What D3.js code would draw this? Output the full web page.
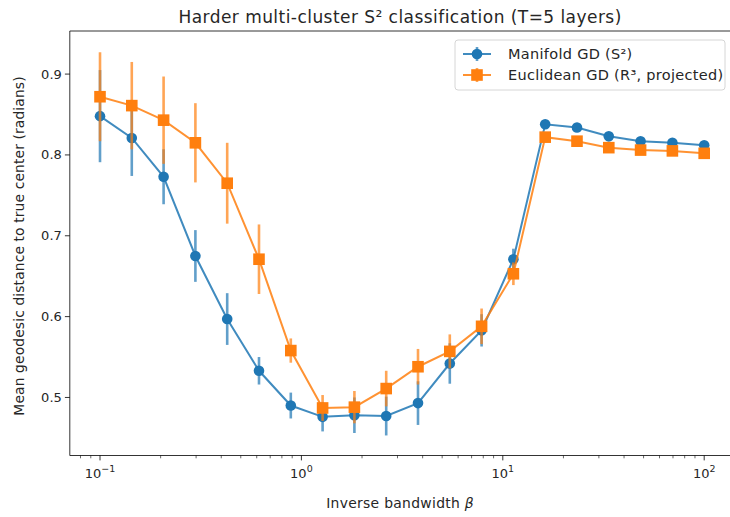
<!DOCTYPE html>
<html>
<head>
<meta charset="utf-8">
<script src="https://cdn.jsdelivr.net/npm/d3@7"></script>
<style>
  body { margin: 0; background: #fff; }
  text { font-family: "DejaVu Sans", sans-serif; fill: #262626; }
</style>
</head>
<body>
<div id="chart"></div>
<script>
// inverse bandwidth values, logspace(-1, 2, 20)
const betas = [0.1, 0.1438, 0.2069, 0.2976, 0.4281, 0.6158, 0.8859, 1.2743, 1.8330, 2.6367,
               3.7927, 5.4556, 7.8476, 11.288, 16.238, 23.357, 33.598, 48.329, 69.519, 100];

const manifoldMean = [0.848, 0.821, 0.773, 0.675, 0.597, 0.533, 0.490, 0.476, 0.478, 0.477,
                      0.493, 0.542, 0.583, 0.671, 0.838, 0.834, 0.823, 0.817, 0.815, 0.812];
const manifoldErr  = [0.057, 0.047, 0.034, 0.032, 0.032, 0.017, 0.016, 0.018, 0.022, 0.024,
                      0.027, 0.025, 0.020, 0.013, 0.004, 0.003, 0.003, 0.003, 0.003, 0.003];

const euclidMean = [0.872, 0.861, 0.843, 0.815, 0.765, 0.671, 0.558, 0.487, 0.488, 0.511,
                    0.538, 0.557, 0.588, 0.653, 0.822, 0.817, 0.809, 0.806, 0.805, 0.802];
const euclidErr  = [0.055, 0.054, 0.054, 0.049, 0.050, 0.043, 0.015, 0.016, 0.020, 0.022,
                    0.022, 0.021, 0.022, 0.014, 0.004, 0.003, 0.003, 0.003, 0.003, 0.003];

const yTicks = [0.5, 0.6, 0.7, 0.8, 0.9];
const xTickExps = [-1, 0, 1, 2];
const seriesNames = ["Manifold GD (S\u00B2)", "Euclidean GD (R\u00B3, projected)"];
const colors = ["#1f77b4", "#ff7f0e"];

const width = 730, height = 517;
const margin = { top: 31, left: 69.8, bottom: 61.5 };
const plotRight = 734.4;

const svg = d3.select("#chart").append("svg")
    .attr("width", width)
    .attr("height", height);

const x = d3.scaleLog()
    .domain([Math.pow(10, -1.15), Math.pow(10, 2.15)])
    .range([margin.left, plotRight]);

const y = d3.scaleLinear()
    .domain([0.4282, 0.9533])
    .range([height - margin.bottom, margin.top]);

// axes
const xAxis = svg.append("g")
    .attr("transform", "translate(0," + (height - margin.bottom) + ")");
xAxis.append("line")
    .attr("x1", margin.left).attr("x2", plotRight)
    .attr("stroke", "#000").attr("stroke-width", 0.8);

const minor = [];
for (let e = -2; e <= 2; e++) {
    for (let m = 2; m <= 9; m++) {
        const v = m * Math.pow(10, e);
        if (x(v) >= margin.left && x(v) <= width) minor.push(v);
    }
}
xAxis.selectAll(".minor").data(minor).enter().append("line")
    .attr("x1", d => x(d)).attr("x2", d => x(d))
    .attr("y1", 0).attr("y2", 2.8)
    .attr("stroke", "#000").attr("stroke-width", 0.6);

xAxis.selectAll(".major").data(xTickExps).enter().append("line")
    .attr("x1", d => x(Math.pow(10, d))).attr("x2", d => x(Math.pow(10, d)))
    .attr("y1", 0).attr("y2", 4.9)
    .attr("stroke", "#000").attr("stroke-width", 0.8);

const xl = xAxis.selectAll(".xlab").data(xTickExps).enter().append("text")
    .attr("x", d => x(Math.pow(10, d)))
    .attr("y", 22)
    .attr("text-anchor", "middle")
    .style("font-size", "13px");
xl.append("tspan").text("10");
xl.append("tspan").attr("dy", -6).style("font-size", "9.5px")
    .text(d => d < 0 ? "\u2212" + Math.abs(d) : d);

const yAxis = svg.append("g");
yAxis.append("line")
    .attr("x1", margin.left).attr("x2", margin.left)
    .attr("y1", margin.top).attr("y2", height - margin.bottom)
    .attr("stroke", "#000").attr("stroke-width", 0.8);
yAxis.selectAll(".tick").data(yTicks).enter().append("line")
    .attr("x1", margin.left - 4.9).attr("x2", margin.left)
    .attr("y1", d => y(d)).attr("y2", d => y(d))
    .attr("stroke", "#000").attr("stroke-width", 0.8);
yAxis.selectAll(".ylab").data(yTicks).enter().append("text")
    .attr("x", margin.left - 8)
    .attr("y", d => y(d))
    .attr("dy", "0.35em")
    .attr("text-anchor", "end")
    .style("font-size", "13px")
    .text(d => d.toFixed(1));

// top spine
svg.append("line")
    .attr("x1", margin.left).attr("x2", plotRight)
    .attr("y1", margin.top).attr("y2", margin.top)
    .attr("stroke", "#000").attr("stroke-width", 0.8);

// labels
svg.append("text")
    .attr("x", (margin.left + plotRight) / 2 - 2)
    .attr("y", 23)
    .attr("text-anchor", "middle")
    .style("font-size", "17px")
    .style("letter-spacing", "0.45px")
    .text("Harder multi-cluster S\u00B2 classification (T=5 layers)");

const xlab = svg.append("text")
    .attr("x", (margin.left + plotRight) / 2 - 2)
    .attr("y", 508)
    .attr("text-anchor", "middle")
    .style("font-size", "13.9px")
    .style("letter-spacing", "0.3px");
xlab.append("tspan").text("Inverse bandwidth ");
xlab.append("tspan").style("font-style", "italic").text("\u03B2");

svg.append("text")
    .attr("transform", "rotate(-90)")
    .attr("x", -246)
    .attr("y", 24)
    .attr("text-anchor", "middle")
    .style("font-size", "13.9px")
    .style("letter-spacing", "0.1px")
    .text("Mean geodesic distance to true center (radians)");

// series
const series = [
    { mean: manifoldMean, err: manifoldErr, color: colors[0], marker: "circle" },
    { mean: euclidMean, err: euclidErr, color: colors[1], marker: "square" }
];

const plot = svg.append("g");
const line = d3.line().x(d => x(d.b)).y(d => y(d.m));

series.forEach(s => {
    const pts = betas.map((b, i) => ({ b: b, m: s.mean[i], e: s.err[i] }));
    const g = plot.append("g");
    g.selectAll(".err").data(pts).enter().append("line")
        .attr("x1", d => x(d.b)).attr("x2", d => x(d.b))
        .attr("y1", d => y(d.m - d.e)).attr("y2", d => y(d.m + d.e))
        .attr("stroke", s.color).attr("stroke-width", 2.6).attr("opacity", 0.7);
    g.append("path")
        .datum(pts)
        .attr("d", line)
        .attr("fill", "none")
        .attr("stroke", s.color)
        .attr("stroke-width", 2)
        .attr("opacity", 0.85);
    if (s.marker === "circle") {
        g.selectAll(".pt").data(pts).enter().append("circle")
            .attr("cx", d => x(d.b)).attr("cy", d => y(d.m))
            .attr("r", 5.3)
            .attr("fill", s.color);
    } else {
        g.selectAll(".pt").data(pts).enter().append("rect")
            .attr("x", d => x(d.b) - 5.8).attr("y", d => y(d.m) - 5.8)
            .attr("width", 11.6).attr("height", 11.6)
            .attr("fill", s.color);
    }
});

// legend
const legend = svg.append("g").attr("transform", "translate(455,40)");
legend.append("rect")
    .attr("width", 270).attr("height", 50).attr("rx", 3)
    .attr("fill", "#fff").attr("fill-opacity", 0.8)
    .attr("stroke", "#ccc").attr("stroke-width", 0.8);
seriesNames.forEach((name, i) => {
    const gy = 14 + i * 21;
    const lg = legend.append("g").attr("transform", "translate(0," + gy + ")");
    lg.append("line").attr("x1", 8).attr("x2", 36).attr("y1", 0).attr("y2", 0)
        .attr("stroke", colors[i]).attr("stroke-width", 2).attr("opacity", 0.85);
    lg.append("line").attr("x1", 22).attr("x2", 22).attr("y1", -7).attr("y2", 7)
        .attr("stroke", colors[i]).attr("stroke-width", 2.6).attr("opacity", 0.7);
    if (i === 0) {
        lg.append("circle").attr("cx", 22).attr("cy", 0).attr("r", 5.3).attr("fill", colors[i]);
    } else {
        lg.append("rect").attr("x", 16.2).attr("y", -5.8).attr("width", 11.6).attr("height", 11.6)
            .attr("fill", colors[i]);
    }
    lg.append("text")
        .attr("x", 53).attr("y", 0).attr("dy", "0.35em")
        .style("font-size", "14.5px")
        .style("letter-spacing", "0.3px")
        .text(name);
});
</script>
</body>
</html>
